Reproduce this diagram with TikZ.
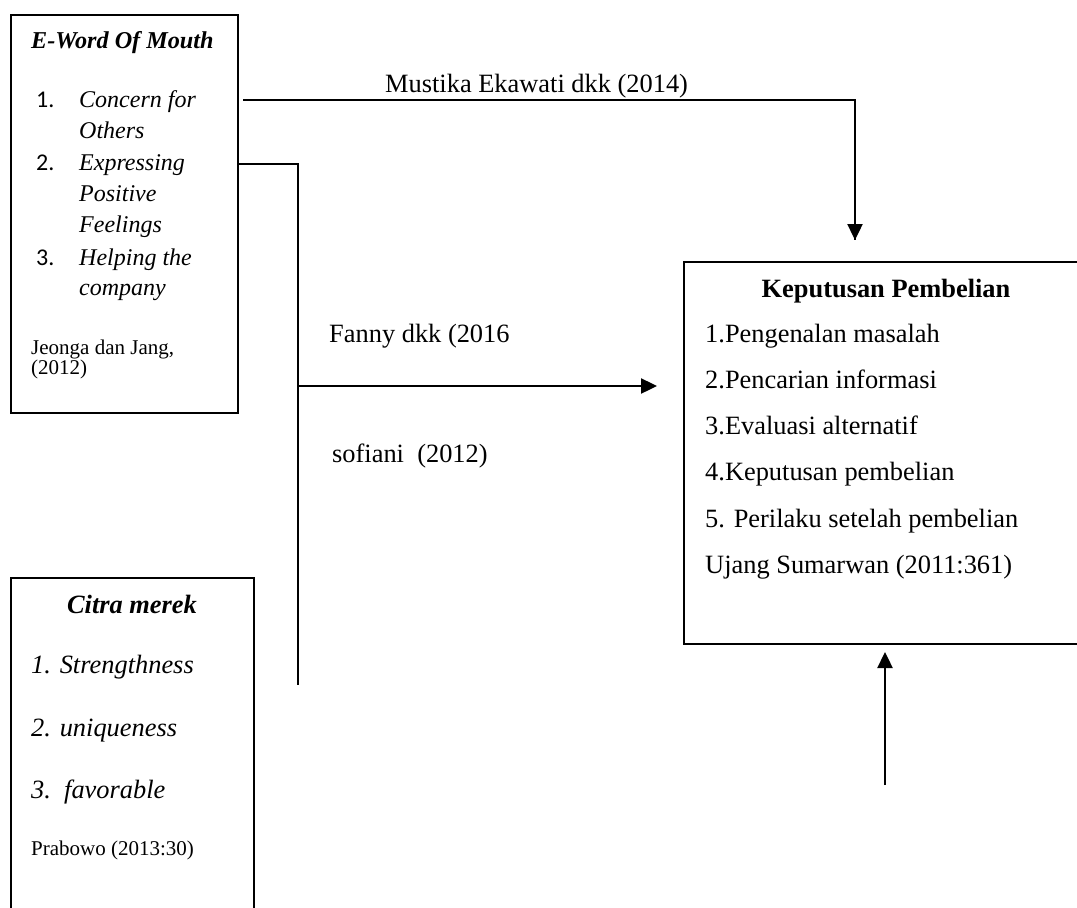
\documentclass[tikz,border=0pt]{standalone}
\usepackage{fontspec}
\setmainfont{Liberation Serif}
\newfontfamily\numfont{Carlito}
\usetikzlibrary{arrows.meta}

\begin{document}
\begin{tikzpicture}[x=1pt,y=-1pt,
  box/.style={draw,line width=2,inner sep=0,anchor=north west},
  txt/.style={anchor=base west,inner sep=0,font=\fontsize{26.4}{31}\selectfont},
  small/.style={anchor=base west,inner sep=0,font=\fontsize{21}{19}\selectfont},
  arr/.style={-{Triangle[length=16,width=15]},line width=2.4}]
\useasboundingbox (0,0) rectangle (1077,908);
\clip (0,0) rectangle (1077,908);

% boxes
\node[box,minimum width=227,minimum height=398] (ewom) at (10,14) {};
\node[box,minimum width=243,minimum height=420] (citra) at (10,577) {};
\node[box,minimum width=450,minimum height=382] (kp) at (683,261) {};

% E-Word Of Mouth
\node[txt,font=\fontsize{24.2}{31}\selectfont\bfseries\itshape] (ewt) at (31,48) {E-Word Of Mouth};
\foreach \n/\y in {1/107,2/170,3/265}
  \node[txt,font=\fontsize{24}{31}\numfont] (en\n) at (36,\y) {\n.};
\foreach \t/\y [count=\i] in {Concern for/107,Others/138,Expressing/170,Positive/201,Feelings/232,Helping the/265,company/295}
  \node[txt,font=\fontsize{24}{31}\selectfont\itshape] (e\i) at (79,\y) {\t};
\node[small] (ejeo) at (31,354) {Jeonga dan Jang,};
\node[small] (ejyr) at (31,374) {(2012)};

% Citra merek
\node[txt,anchor=base,font=\fontsize{26.4}{31}\selectfont\bfseries\itshape] (ct) at (132,613) {Citra merek};
\foreach \t/\y [count=\i] in {1. Strengthness/673,2. uniqueness/736,3.\ \ favorable/798}
  \node[txt,font=\fontsize{26.4}{31}\selectfont\itshape] (c\i) at (31,\y) {\t};
\node[small] (cref) at (31,855) {Prabowo (2013:30)};

% Keputusan Pembelian
\node[txt,anchor=base,font=\fontsize{26.4}{31}\selectfont\bfseries] (kt) at (886,297) {Keputusan Pembelian};
\foreach \t [count=\i] in {1.Pengenalan masalah,2.Pencarian informasi,3.Evaluasi alternatif,4.Keputusan pembelian,5. Perilaku setelah pembelian,Ujang Sumarwan (2011:361)}
  \node[txt] (k\i) at (705,296+46.2*\i) {\t};

% labels
\node[txt] (lmus) at (385,92) {Mustika Ekawati dkk (2014)};
\node[txt] (lfan) at (329,342) {Fanny dkk (2016};
\node[txt] (lsof) at (332,462) {sofiani\ \ (2012)};

% connectors
\coordinate (m0) at (243,100);
\coordinate (m1) at (855,240);
\draw[line width=2] (m0) -| (m1);
\draw[arr] (855,230) -- (m1);
\coordinate (b0) at (ewom.east |- 0,164);
\coordinate (b1) at (298,164);
\coordinate (b2) at (298,685);
\coordinate (b3) at (298,386);
\coordinate (b4) at (657,386);
\draw[line width=2] (b0) -- (b1) -- (b2);
\draw[arr] (b3) -- (b4);
\coordinate (u0) at (885,785);
\coordinate (u1) at (885,652);
\draw[arr] (u0) -- (u1);
\end{tikzpicture}
\end{document}
